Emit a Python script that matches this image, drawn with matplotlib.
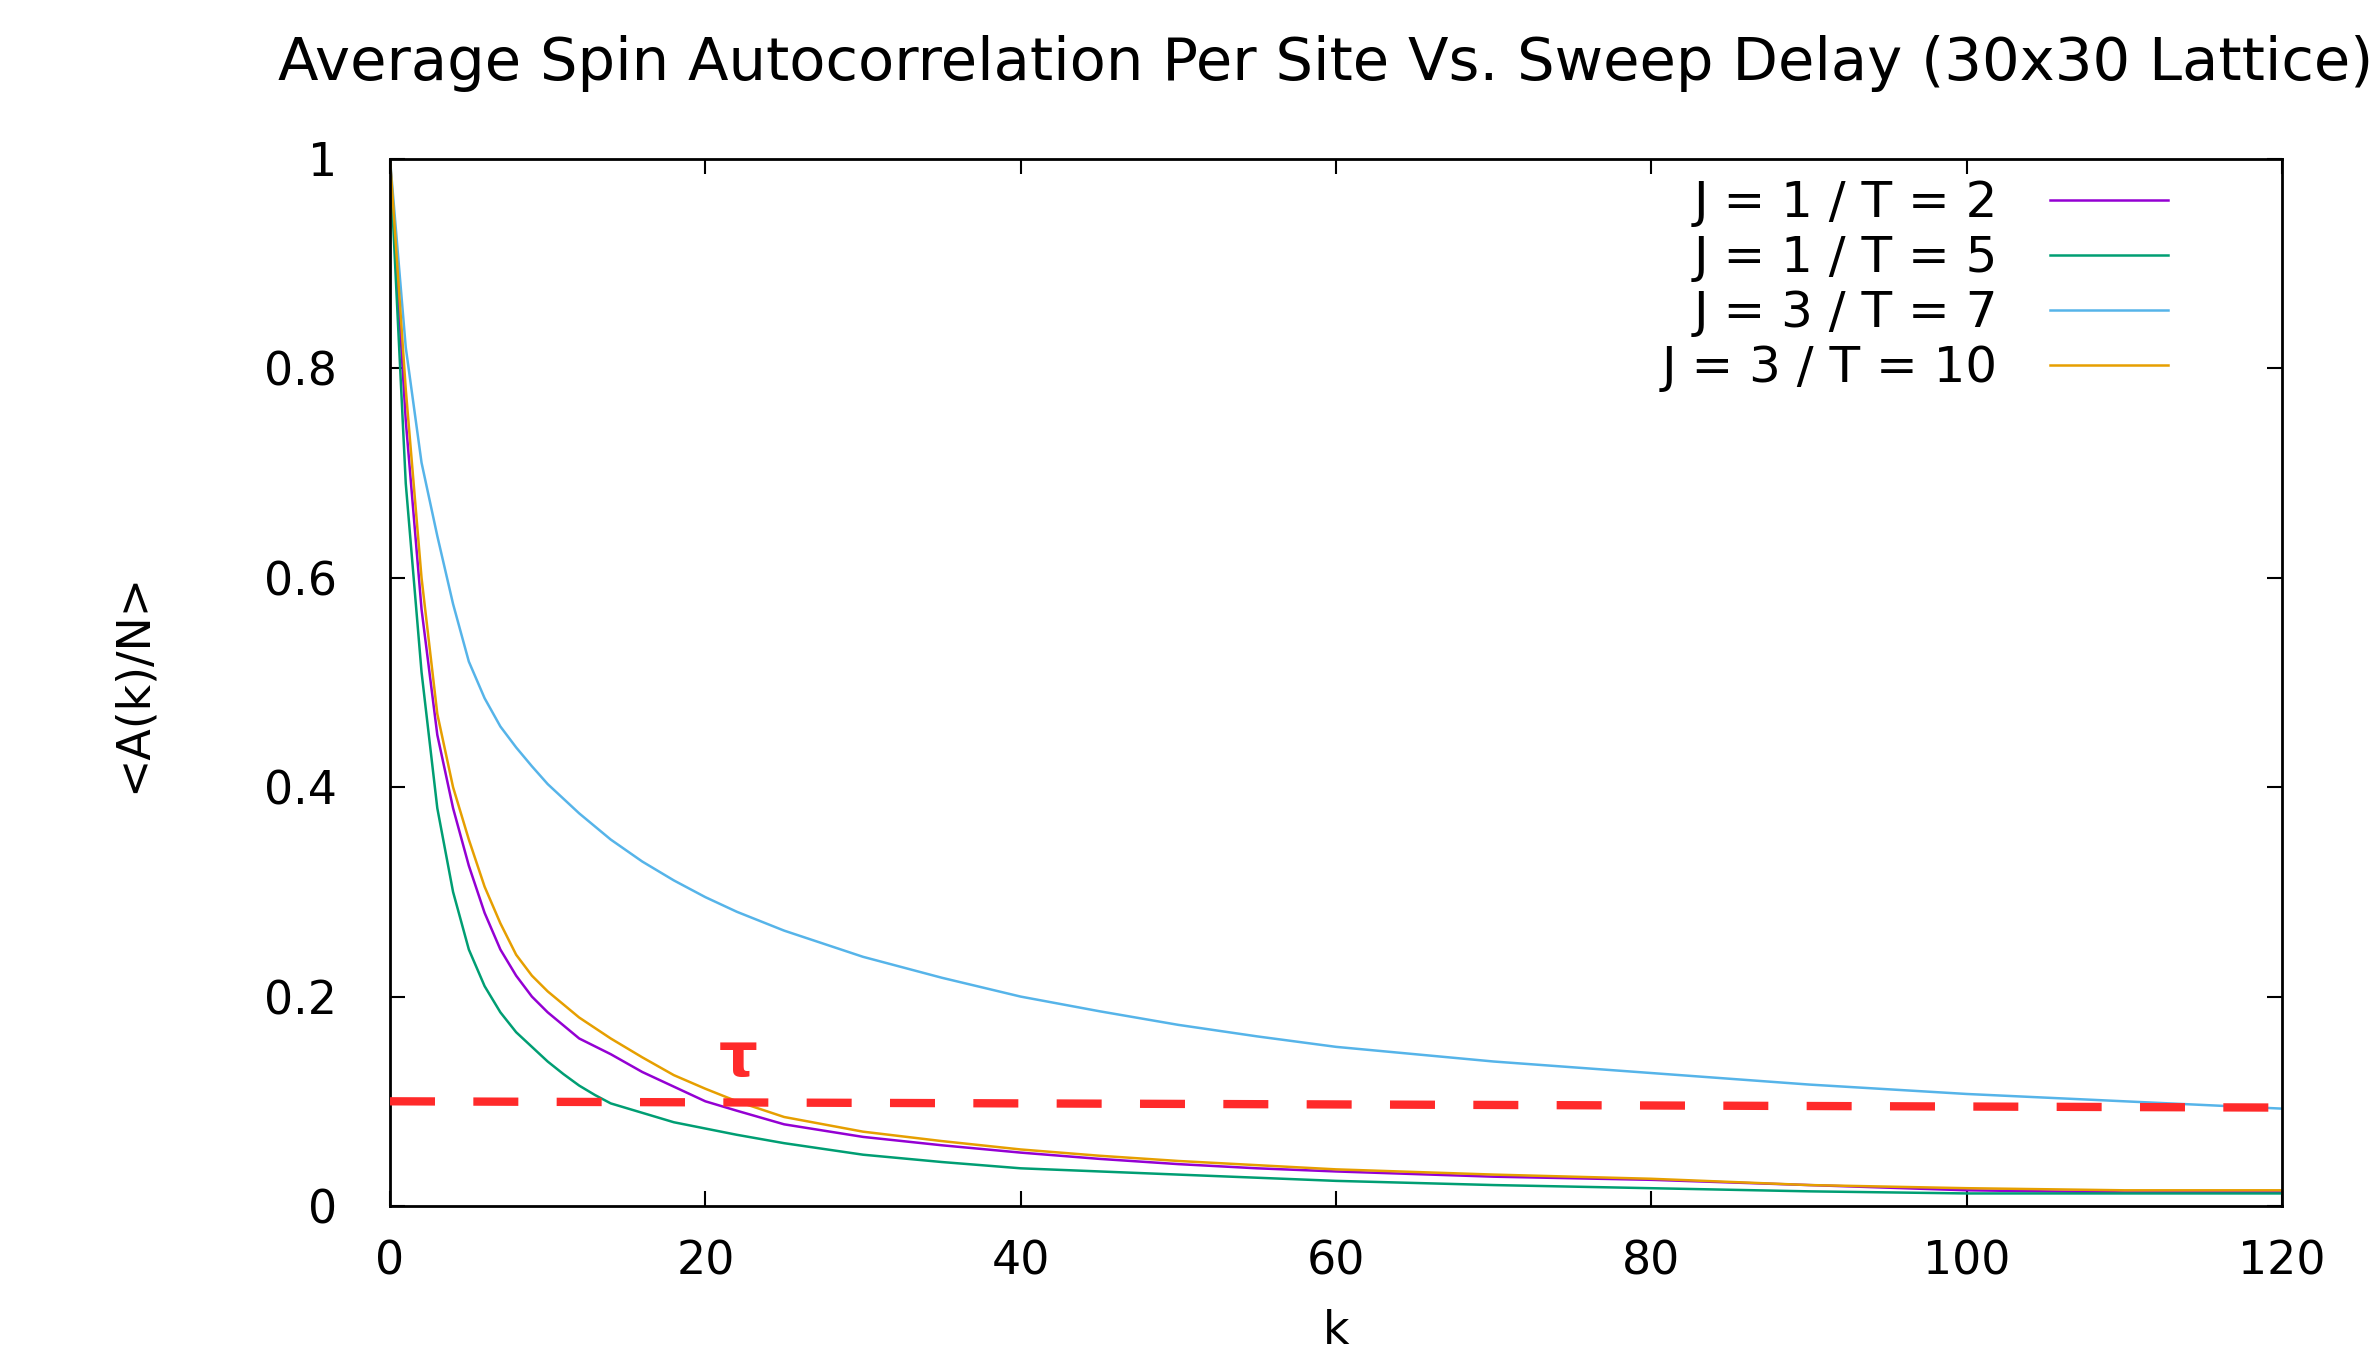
import matplotlib
matplotlib.use("Agg")
import matplotlib.pyplot as plt

# --- data ---
k_purple = [0, 1, 2, 3, 4, 5, 6, 7, 8, 9, 10, 12, 14, 16, 18, 20, 22, 25, 30, 35, 40, 45, 50, 55, 60, 70, 80, 90, 100, 110, 120]
a_purple = [1.0, 0.75, 0.57, 0.45, 0.38, 0.325, 0.28, 0.245, 0.22, 0.20, 0.185, 0.16, 0.145, 0.128, 0.114, 0.100, 0.091, 0.078, 0.066, 0.058, 0.051, 0.045, 0.040, 0.036, 0.033, 0.028, 0.025, 0.020, 0.015, 0.013, 0.013]

k_green = [0, 1, 2, 3, 4, 5, 6, 7, 8, 9, 10, 11, 12, 13, 14, 16, 18, 20, 22, 25, 30, 35, 40, 45, 50, 55, 60, 70, 80, 90, 100, 110, 120]
a_green = [1.0, 0.69, 0.51, 0.38, 0.30, 0.245, 0.21, 0.185, 0.166, 0.152, 0.138, 0.126, 0.115, 0.106, 0.098, 0.089, 0.080, 0.074, 0.068, 0.060, 0.049, 0.042, 0.036, 0.033, 0.030, 0.027, 0.024, 0.020, 0.017, 0.014, 0.012, 0.012, 0.012]

k_blue = [0, 1, 2, 3, 4, 5, 6, 7, 8, 9, 10, 12, 14, 16, 18, 20, 22, 25, 28, 30, 35, 40, 45, 50, 55, 60, 70, 80, 90, 100, 110, 120]
a_blue = [1.0, 0.82, 0.71, 0.64, 0.575, 0.52, 0.485, 0.458, 0.438, 0.42, 0.403, 0.375, 0.35, 0.329, 0.311, 0.295, 0.281, 0.263, 0.248, 0.238, 0.218, 0.200, 0.186, 0.173, 0.162, 0.152, 0.138, 0.127, 0.116, 0.107, 0.100, 0.093]

k_orange = [0, 1, 2, 3, 4, 5, 6, 7, 8, 9, 10, 12, 14, 16, 18, 20, 22, 25, 30, 35, 40, 45, 50, 55, 60, 70, 80, 90, 100, 110, 120]
a_orange = [1.0, 0.78, 0.60, 0.47, 0.40, 0.35, 0.305, 0.27, 0.24, 0.22, 0.205, 0.18, 0.16, 0.142, 0.125, 0.112, 0.100, 0.085, 0.071, 0.062, 0.054, 0.048, 0.043, 0.039, 0.035, 0.030, 0.026, 0.020, 0.017, 0.015, 0.015]

labels = ["J = 1 / T = 2", "J = 1 / T = 5", "J = 3 / T = 7", "J = 3 / T = 10"]
colors = ["#9400d3", "#009e73", "#56b4e9", "#e69f00"]

# tau threshold line (drawn slightly sloped in the original)
tau_k = [0, 120]
tau_a = [0.100, 0.094]
tau_label_k, tau_label_a = 22.1, 0.140

x_ticks = [0, 20, 40, 60, 80, 100, 120]
y_ticks = [0, 0.2, 0.4, 0.6, 0.8, 1]
y_ticklabels = ["0", "0.2", "0.4", "0.6", "0.8", "1"]

plt.rcParams["font.family"] = ["DejaVu Sans"]

fig = plt.figure(figsize=(23.79, 13.54), dpi=100)
ax = fig.add_axes([390 / 2379, 1 - 1206 / 1354, 1892 / 2379, 1047 / 1354])

series = [(k_purple, a_purple), (k_green, a_green), (k_blue, a_blue), (k_orange, a_orange)]
for (k, a), lab, col in zip(series, labels, colors):
    ax.plot(k, a, color=col, lw=1.8, label=lab)

# red dashed tau line
ax.plot(tau_k, tau_a, color="#ff2a2a", lw=6, dashes=(5.4, 4.6), zorder=5)
ax.text(tau_label_k, tau_label_a, "τ", color="#ff2a2a", fontsize=44,
        fontweight="bold", ha="center", va="center")

ax.set_xlim(0, 120)
ax.set_ylim(0, 1)
ax.set_xticks(x_ticks)
ax.set_yticks(y_ticks)
ax.set_yticklabels(y_ticklabels)
ax.tick_params(direction="in", length=11, width=1.5, top=True, right=True, labelsize=33)
ax.tick_params(axis="y", pad=38)
ax.tick_params(axis="x", pad=24)
for sp in ax.spines.values():
    sp.set_linewidth(2)

ax.set_xlabel("k", fontsize=33, va="center")
ax.xaxis.set_label_coords(0.5, -0.12)
ax.set_ylabel("<A(k)/N>", fontsize=33, va="center")
ax.yaxis.set_label_coords(-0.136, 0.5)

fig.text(1326 / 2379, 1 - 64 / 1354,
         "Average Spin Autocorrelation Per Site Vs. Sweep Delay (30x30 Lattice)",
         fontsize=42.7, ha="center", va="center")

ax.legend(loc="upper right", frameon=False, markerfirst=False, fontsize=36,
          handlelength=2.36, handletextpad=1.03, labelspacing=0.14,
          borderaxespad=0.3, bbox_to_anchor=(0.958, 1.014))

fig.savefig("out.png", dpi=100)
